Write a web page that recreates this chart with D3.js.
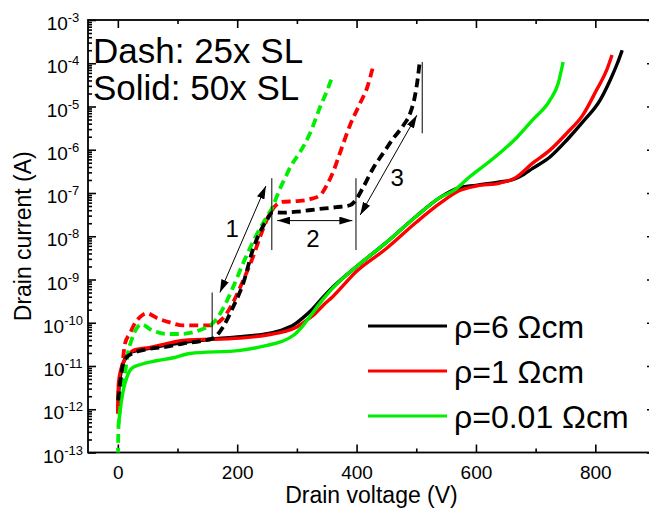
<!DOCTYPE html>
<html>
<head>
<meta charset="utf-8">
<script src="https://cdn.jsdelivr.net/npm/d3@7"></script>
<style>
  body { margin: 0; background: #fff; }
  svg { font-family: "Liberation Sans", Arial, sans-serif; }
</style>
</head>
<body>
<svg id="chart" width="649" height="518"></svg>
<script>
// drain voltage (V) / drain current (A)
var blackSolidV = [0.5, 2, 6, 12, 20, 35, 60, 110, 160, 200, 250, 275, 295, 310, 325, 340, 360, 400, 450, 500, 540, 570, 600, 640, 660, 674, 695, 724, 752, 779, 808, 825, 837, 845];
var blackSolidI = [1.2e-12, 3.2e-12, 7.9e-12, 1.5e-11, 2.0e-11, 2.3e-11, 2.7e-11, 3.5e-11, 4.2e-11, 4.7e-11, 5.6e-11, 6.8e-11, 9.0e-11, 1.3e-10, 2.0e-10, 3.4e-10, 6.6e-10, 2.0e-9, 7.2e-9, 2.9e-8, 7.9e-8, 1.3e-7, 1.5e-7, 1.8e-7, 2.0e-7, 2.4e-7, 3.7e-7, 6.8e-7, 1.66e-6, 4.4e-6, 1.4e-5, 4.1e-5, 1.0e-4, 2.0e-4];

var redSolidV = [0, 1, 6, 15, 26, 54, 82, 109, 205, 250, 280, 300, 315, 330, 345, 360, 400, 450, 500, 540, 570, 600, 640, 665, 695, 724, 752, 779, 802, 819, 828];
var redSolidI = [8.9e-13, 4.0e-12, 9.3e-12, 1.6e-11, 2.3e-11, 2.7e-11, 3.3e-11, 3.9e-11, 4.4e-11, 5.2e-11, 6.3e-11, 8.0e-11, 1.1e-10, 1.6e-10, 2.6e-10, 4.0e-10, 1.55e-9, 5.2e-9, 2.1e-8, 5.8e-8, 1.1e-7, 1.45e-7, 1.7e-7, 2.2e-7, 4.9e-7, 9.8e-7, 2.4e-6, 6.3e-6, 2.4e-5, 6.9e-5, 1.55e-4];

var greenSolidV = [1.5, 3.7, 9, 15, 23, 37, 65, 93, 121, 205, 250, 275, 295, 310, 325, 340, 360, 400, 450, 500, 540, 565, 590, 620, 640, 669, 695, 724, 738, 746];
var greenSolidI = [4.7e-13, 9.1e-13, 2.7e-12, 5.4e-12, 8.7e-12, 1.07e-11, 1.32e-11, 1.55e-11, 1.95e-11, 2.3e-11, 3.0e-11, 3.7e-11, 5.2e-11, 8.5e-11, 1.6e-10, 3.0e-10, 6.3e-10, 2.0e-9, 7.2e-9, 2.9e-8, 7.9e-8, 1.2e-7, 2.4e-7, 5.0e-7, 8.4e-7, 1.95e-6, 4.9e-6, 1.4e-5, 3.5e-5, 1.07e-4];

var blackDashV = [0.5, 3.7, 9, 15, 26, 54, 82, 109, 140, 160, 176, 193, 210, 226, 249, 260, 275, 300, 333, 366, 389, 397, 411, 428, 445, 461, 478, 490, 498, 503, 506];
var blackDashI = [1.6e-12, 4.0e-12, 1.15e-11, 1.6e-11, 2.0e-11, 2.5e-11, 2.8e-11, 3.3e-11, 3.8e-11, 4.4e-11, 7.9e-11, 2.3e-10, 8.1e-10, 4.8e-9, 2.3e-8, 3.6e-8, 3.5e-8, 3.7e-8, 4.2e-8, 4.7e-8, 5.2e-8, 6.4e-8, 1.35e-7, 3.8e-7, 8.5e-7, 1.8e-6, 3.6e-6, 7.1e-6, 1.8e-5, 5.0e-5, 1.17e-4];

var redDashV = [0, 1, 6, 12, 20, 29, 37, 48, 67, 87, 109, 138, 154, 176, 193, 210, 226, 240, 255, 275, 300, 322, 339, 352, 362, 372, 389, 406, 418, 427];
var redDashI = [7.9e-13, 2.75e-12, 6.8e-12, 3.3e-11, 5.6e-11, 1.0e-10, 1.35e-10, 1.66e-10, 1.26e-10, 1.02e-10, 8.7e-11, 8.7e-11, 8.7e-11, 1.26e-10, 2.95e-10, 9.5e-10, 3.2e-9, 1.12e-8, 3.4e-8, 6.2e-8, 6.5e-8, 7.2e-8, 8.9e-8, 1.7e-7, 3.4e-7, 8.3e-7, 3.7e-6, 1.2e-5, 2.8e-5, 7.8e-5];

var greenDashV = [0.3, 0.8, 3.7, 6.5, 12, 17, 23, 32, 40, 54, 82, 104, 121, 138, 160, 176, 193, 210, 230, 245, 260, 270, 280, 290, 305, 322, 339, 351, 359];
var greenDashI = [7.9e-14, 3.2e-13, 1.0e-12, 2.5e-12, 6.9e-12, 2.0e-11, 4.0e-11, 7.6e-11, 9.3e-11, 7.1e-11, 5.5e-11, 5.5e-11, 5.8e-11, 6.8e-11, 1.0e-10, 2.1e-10, 6.6e-10, 2.4e-9, 9.3e-9, 2.2e-8, 5.0e-8, 1.12e-7, 2.2e-7, 4.2e-7, 8.7e-7, 2.4e-6, 9.8e-6, 2.4e-5, 4.8e-5];

var legendLabels = ["ρ=6 Ωcm", "ρ=1 Ωcm", "ρ=0.01 Ωcm"];
var xTicks = [0, 200, 400, 600, 800];
var yExponents = [-13, -12, -11, -10, -9, -8, -7, -6, -5, -4, -3];

// annotation marks (V, A)
var markerLines = [[158, 4.4e-11, 5.0e-10], [258, 4.8e-9, 2.2e-7], [399, 4.8e-9, 2.2e-7], [510, 2.4e-6, 1.07e-4]];
var arrows = [[171, 5.0e-10, 248, 1.45e-7], [267, 2.3e-8, 393, 2.3e-8], [406, 3.1e-8, 501, 6.3e-6]];
var arrowLabels = [["1", 191.5, 1.55e-8], ["2", 327, 8.9e-9], ["3", 468, 2.3e-7]];

const colors = ["#000000", "#ff0000", "#00ee00"];

const svg = d3.select("#chart");
const pLeft = 88, pRight = 655, pTop = 20, pBottom = 452.5;

const x = d3.scaleLinear().domain([-50, 900]).range([pLeft, pRight]);
const y = d3.scaleLog().domain([1e-13, 1e-3]).range([pBottom, pTop]);

const defs = svg.append("defs");
defs.append("clipPath").attr("id", "clip")
  .append("rect").attr("x", pLeft).attr("y", pTop).attr("width", pRight - pLeft).attr("height", pBottom - pTop);

defs.append("marker")
  .attr("id", "head").attr("viewBox", "0 0 13 8").attr("refX", 13).attr("refY", 4)
  .attr("markerWidth", 13).attr("markerHeight", 8).attr("markerUnits", "userSpaceOnUse")
  .attr("orient", "auto-start-reverse")
  .append("path").attr("d", "M0,0 L13,4 L0,8 Z").attr("fill", "#000");

// minor ticks
var minorX = [100, 300, 500, 700];
var minorY = [];
yExponents.slice(0, -1).forEach(function (e) {
  for (var k = 2; k < 10; k++) minorY.push(k * Math.pow(10, e));
});

function noDomain(g) { g.select(".domain").remove(); }

svg.append("g").attr("transform", "translate(0," + pBottom + ")")
  .call(d3.axisBottom(x).tickValues(xTicks).tickSize(-8).tickPadding(13).tickFormat(d3.format("d")))
  .call(noDomain)
  .style("font-family", "Liberation Sans, Arial, sans-serif").style("font-size", "19px");
svg.append("g").attr("transform", "translate(0," + pBottom + ")")
  .call(d3.axisBottom(x).tickValues(minorX).tickSize(-4).tickFormat("")).call(noDomain);
svg.append("g").attr("transform", "translate(0," + pTop + ")")
  .call(d3.axisTop(x).tickValues(xTicks).tickSize(-8).tickFormat("")).call(noDomain);
svg.append("g").attr("transform", "translate(0," + pTop + ")")
  .call(d3.axisTop(x).tickValues(minorX).tickSize(-4).tickFormat("")).call(noDomain);

var majorY = yExponents.map(function (e) { return Math.pow(10, e); });
svg.append("g").attr("transform", "translate(" + pLeft + ",0)")
  .call(d3.axisLeft(y).tickValues(majorY).tickSize(-8).tickFormat("")).call(noDomain);
svg.append("g").attr("transform", "translate(" + pLeft + ",0)")
  .call(d3.axisLeft(y).tickValues(minorY).tickSize(-4).tickFormat("")).call(noDomain);
svg.append("g").attr("transform", "translate(" + pRight + ",0)")
  .call(d3.axisRight(y).tickValues(majorY).tickSize(-8).tickFormat("")).call(noDomain);
svg.append("g").attr("transform", "translate(" + pRight + ",0)")
  .call(d3.axisRight(y).tickValues(minorY).tickSize(-4).tickFormat("")).call(noDomain);

svg.selectAll(".tick line").attr("stroke", "#000").attr("stroke-width", 1.6);

// y tick labels 10^n
var yl = svg.append("g").attr("font-size", "19px").attr("text-anchor", "middle");
yExponents.forEach(function (e) {
  var t = yl.append("text").attr("x", 63).attr("y", y(Math.pow(10, e)) + 10);
  t.append("tspan").text("10");
  t.append("tspan").attr("dy", -8).attr("font-size", "13px").text("-" + (-e));
});

// frame
svg.append("rect").attr("x", pLeft).attr("y", pTop).attr("width", pRight - pLeft).attr("height", pBottom - pTop)
  .attr("fill", "none").attr("stroke", "#000").attr("stroke-width", 1.8);

// curves
const line = d3.line()
  .x(function (d) { return x(d[0]); })
  .y(function (d) { return y(d[1]); })
  .curve(d3.curveMonotoneX);

var curves = [
  [blackSolidV, blackSolidI, 0, false],
  [redSolidV, redSolidI, 1, false],
  [greenSolidV, greenSolidI, 2, false],
  [redDashV, redDashI, 1, true],
  [greenDashV, greenDashI, 2, true],
  [blackDashV, blackDashI, 0, true]
];

var plot = svg.append("g").attr("clip-path", "url(#clip)");
curves.forEach(function (c) {
  plot.append("path")
    .datum(d3.zip(c[0], c[1]))
    .attr("d", line)
    .attr("fill", "none")
    .attr("stroke", colors[c[2]])
    .attr("stroke-width", c[3] ? 3.8 : 3.4)
    .attr("stroke-dasharray", c[3] ? "9,5" : null);
});

// annotations
var ann = svg.append("g").attr("stroke", "#000").attr("stroke-width", 1);
markerLines.forEach(function (m) {
  ann.append("line").attr("x1", x(m[0])).attr("x2", x(m[0])).attr("y1", y(m[1])).attr("y2", y(m[2]));
});
arrows.forEach(function (a) {
  ann.append("line")
    .attr("x1", x(a[0])).attr("y1", y(a[1])).attr("x2", x(a[2])).attr("y2", y(a[3]))
    .attr("marker-start", "url(#head)").attr("marker-end", "url(#head)");
});
svg.append("g").attr("font-size", "24px").attr("text-anchor", "middle")
  .selectAll("text").data(arrowLabels).enter().append("text")
  .attr("x", function (d) { return x(d[1]); })
  .attr("y", function (d) { return y(d[2]); })
  .attr("dy", "0.36em")
  .text(function (d) { return d[0]; });

// text block
svg.append("text").attr("x", 93).attr("y", 63).attr("font-size", "35px").text("Dash: 25x SL");
svg.append("text").attr("x", 93).attr("y", 100).attr("font-size", "35px").text("Solid: 50x SL");

// legend
var lg = svg.append("g");
legendLabels.forEach(function (s, i) {
  var ly = 326 + i * 45;
  lg.append("line").attr("x1", 368).attr("x2", 447).attr("y1", ly).attr("y2", ly)
    .attr("stroke", colors[i]).attr("stroke-width", 3);
  lg.append("text").attr("x", 454).attr("y", ly + 12).attr("font-size", "32px").text(s);
});

// axis titles
svg.append("text").attr("x", (pLeft + pRight) / 2).attr("y", 503).attr("text-anchor", "middle")
  .attr("font-size", "23px").text("Drain voltage (V)");
svg.append("text").attr("transform", "translate(31," + (pTop + pBottom) / 2 + ") rotate(-90)")
  .attr("text-anchor", "middle").attr("font-size", "23px").text("Drain current (A)");
</script>
</body>
</html>
